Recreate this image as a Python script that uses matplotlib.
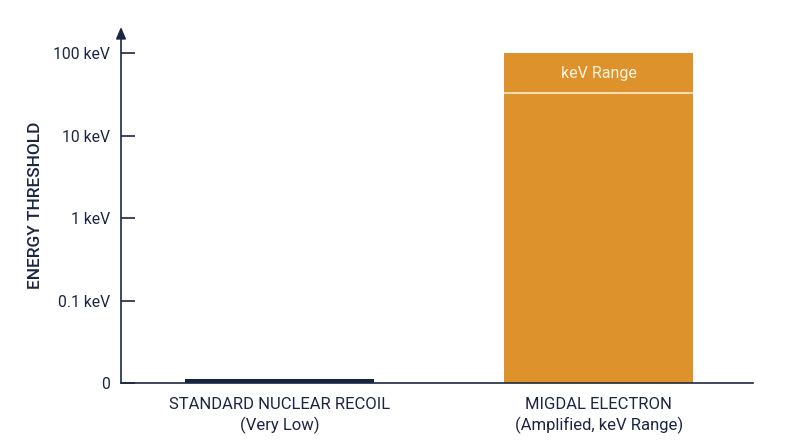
import matplotlib
matplotlib.use("Agg")
import matplotlib.pyplot as plt

# tick positions on the stepped (decade) axis and their labels
tick_pos = [0, 1, 2, 3, 4]
tick_labels = ["0", "0.1 keV", "1 keV", "10 keV", "100 keV"]

categories = ["STANDARD NUCLEAR RECOIL\n(Very Low)", "MIGDAL ELECTRON\n(Amplified, keV Range)"]
heights = [0.05, 4.0]          # in decade steps on the axis
bar_colors = ["#17233f", "#de922b"]
band_line = 3.515               # white divider inside the orange bar
band_text = "keV Range"

NAVY = "#1b2742"

plt.rcParams["font.family"] = ["Roboto", "DejaVu Sans"]

fig = plt.figure(figsize=(8, 4.47), dpi=100)
ax = fig.add_axes([121 / 800, 1 - 383 / 447, (753 - 121) / 800, (383 - 27) / 447])

x = [0, 1]
width = 0.593
ax.bar(x, heights, width=width, color=bar_colors, zorder=2)

ax.hlines(band_line, x[1] - width / 2, x[1] + width / 2, color="#fbe9cc", lw=1.2, zorder=3)
ax.text(x[1], (band_line + heights[1]) / 2, band_text, ha="center", va="center",
        color="#fdf3e1", fontsize=11.5, zorder=4)

ax.set_xlim(-0.497, 1.484)
ax.set_ylim(0, 4.32)

for s in ["top", "right", "left"]:
    ax.spines[s].set_visible(False)
ax.spines["bottom"].set_color(NAVY)
ax.spines["bottom"].set_linewidth(1.2)

# y-axis with arrow head
ax.annotate("", xy=(0, 1.0), xytext=(0, 0), xycoords="axes fraction",
            arrowprops=dict(arrowstyle="-|>,head_length=0.7,head_width=0.3",
                            color=NAVY, lw=1.2, shrinkA=0, shrinkB=0))

ax.set_yticks(tick_pos)
ax.set_yticklabels(tick_labels)
ax.tick_params(axis="y", direction="in", length=10, width=1.2, color=NAVY,
               labelcolor=NAVY, labelsize=11.3, pad=8)
ax.set_xticks(x)
ax.set_xticklabels(categories, linespacing=1.35)
ax.tick_params(axis="x", length=0, labelcolor=NAVY, labelsize=12, pad=10)

ax.set_ylabel("ENERGY THRESHOLD", color=NAVY, fontsize=12.4, fontweight="medium",
              labelpad=7)

fig.savefig("out.png", dpi=100)
